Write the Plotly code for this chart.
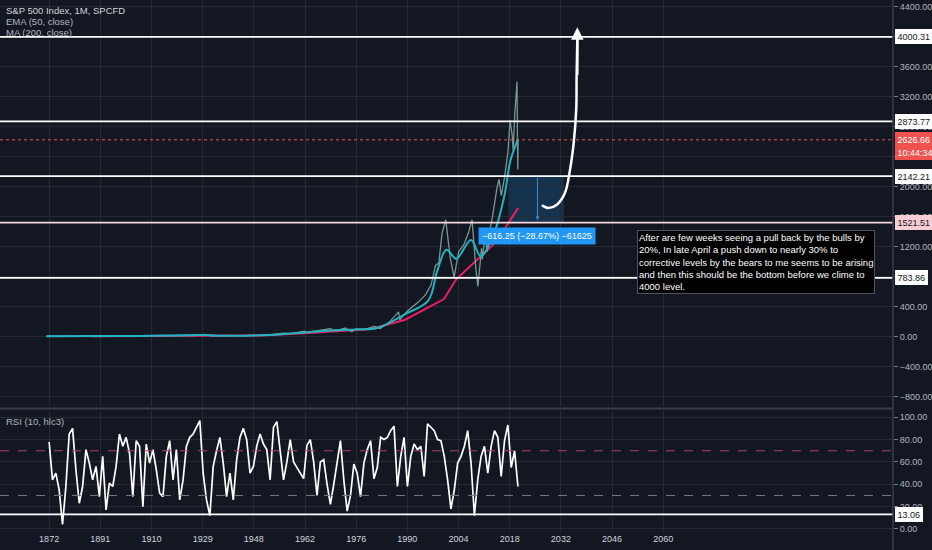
import numpy as np
import plotly.graph_objects as go

BG = "#131722"
GRID = "#262a35"
TEXT = "#b2b5be"
FONT = "Liberation Sans, Arial, sans-serif"

# x axis: evenly spaced year labels (bar index scale, not linear in time)
TICK_YEARS = [1872, 1891, 1910, 1929, 1948, 1962, 1976, 1990, 2004, 2018, 2032, 2046, 2060]

# S&P 500 monthly close, key points
PRICE_YEARS = [1871.0, 1880, 1890, 1900, 1906, 1914, 1920, 1926, 1929.7, 1932.5,
               1937, 1942, 1946, 1949.5, 1953, 1956, 1958, 1961.9, 1962.5, 1966,
               1968.9, 1970.4, 1973, 1974.8, 1976, 1978, 1980.9, 1982.6, 1985, 1987.6,
               1987.9, 1990, 1991, 1993, 1995, 1996.5, 1997.7, 1998.6, 1999.5, 2000.5,
               2001.7, 2002.8, 2004, 2005.5, 2006.8, 2007.7, 2008.8, 2009.3, 2010.3, 2010.5,
               2011.3, 2011.8, 2012.5, 2013.3, 2014.5, 2015.1, 2015.7, 2016.5, 2017.5, 2018.1,
               2018.7, 2018.95, 2019.4, 2020.0, 2020.2, 2020.3]
PRICE = [4.4, 5.0, 5.5, 6.2, 9.0, 7.5, 7.0, 13, 30, 6.9,
         15, 9, 17, 15, 25, 45, 40, 72, 55, 85,
         106, 72, 115, 65, 105, 90, 135, 108, 190, 330,
         225, 340, 380, 460, 560, 690, 950, 980, 1380, 1560,
         1060, 790, 1130, 1230, 1400, 1560, 870, 670, 1180, 1030,
         1350, 1130, 1400, 1600, 1980, 2100, 1880, 2100, 2450, 2890,
         2680, 2480, 2980, 3400, 2230, 2626.66]

EMA_YEARS = [1871, 1900, 1929, 1935, 1950, 1962, 1970, 1976, 1982, 1989.4,
             1995.7, 1998.2, 2000.7, 2003.4, 2007.4, 2010.1, 2013.8, 2016.5, 2018.2, 2020.3]
EMA = [4.4, 6, 20, 12, 16, 55, 85, 95, 118, 300,
       480, 880, 1160, 1040, 1290, 1070, 1390, 1870, 2350, 2640]

MA_YEARS = [1888, 1930, 1950, 1962, 1980, 1989.4, 1996.3, 2000, 2003.3, 2009.7,
            2014, 2016.5, 2018.5, 2020.3]
MA = [5, 12, 14, 44, 100, 225, 400, 500, 760, 1050,
      1250, 1430, 1590, 1716]

# RSI(10, hlc3), evenly spaced bars from 1872 to early 2020
RSI_FIRST, RSI_LAST = 1872, 2020.25
RSI = [78, 44, 50, 35, 4, 38, 85, 90, 53, 23,
       38, 71, 59, 44, 56, 29, 65, 17, 41, 38,
       56, 85, 74, 82, 68, 29, 79, 74, 20, 76,
       59, 71, 53, 32, 29, 65, 79, 44, 71, 26,
       44, 74, 82, 85, 91, 97, 50, 26, 12, 56,
       70, 82, 59, 29, 50, 26, 62, 82, 90, 80,
       50, 56, 74, 85, 76, 71, 44, 91, 96, 71,
       44, 60, 80, 60, 55, 50, 45, 75, 80, 60,
       30, 60, 62, 40, 22, 40, 58, 79, 44, 16,
       30, 58, 50, 29, 59, 71, 79, 45, 55, 82,
       80, 82, 88, 92, 38, 65, 82, 38, 65, 76,
       71, 74, 47, 94, 91, 88, 80, 79, 65, 44,
       18, 35, 59, 65, 74, 88, 59, 12, 44, 65,
       74, 50, 74, 88, 82, 47, 79, 93, 55, 70,
       38]

# drawn levels and labels
LEVELS = [4000.31, 2873.77, 2142.21, 783.86]
PINK_LEVEL = 1521.51
LAST_PRICE = 2626.66
COUNTDOWN = "10:44:34"
RSI_LEVEL = 13.06

# measure tool and hand-drawn arrow
MEASURE_YEARS = [2017.6, 2032.8]
MEASURE_MID = 2025.6
MEASURE_TEXT = "−616.25 (−28.67%) −61625"
ARROW_YEARS = [2026.8, 2028.6, 2030.9, 2033.1, 2034.5, 2035.5, 2036.2, 2036.3, 2036.5]
ARROW_PRICES = [1751, 1716, 1760, 1916, 2227, 2583, 3027, 3471, 3960]
ARROW_TIP = 4130

NOTE_YEAR = 2052.9
NOTE_PRICE = 1420
NOTE = ("After are few weeks seeing a pull back by the bulls by<br>"
        "20%, In late April a push down to nearly 30% to<br>"
        "corrective levels by the bears to me seems to be arising<br>"
        "and then this should be the bottom before we clime to<br>"
        "4000 level.")

EXT_YEARS = [TICK_YEARS[0] - 19] + TICK_YEARS + [TICK_YEARS[-1] + 14]
EXT_POS = list(range(-1, len(TICK_YEARS) + 1))


def to_pos(years):
    return np.interp(years, EXT_YEARS, EXT_POS)


fig = go.Figure()

fig.add_trace(go.Scatter(x=to_pos(MA_YEARS), y=MA, mode="lines",
                         line=dict(color="#e91e63", width=2), yaxis="y"))
fig.add_trace(go.Scatter(x=to_pos(PRICE_YEARS), y=PRICE, mode="lines",
                         line=dict(color="#7b9692", width=1.3), yaxis="y"))
fig.add_trace(go.Scatter(x=to_pos(EMA_YEARS), y=EMA, mode="lines", line_shape="spline",
                         line=dict(color="#22b3c3", width=2), yaxis="y"))
fig.add_trace(go.Scatter(x=to_pos(ARROW_YEARS), y=ARROW_PRICES, mode="lines", line_shape="spline",
                         line=dict(color="white", width=2.5), yaxis="y"))

rsi_x = np.linspace(to_pos(RSI_FIRST), to_pos(RSI_LAST), len(RSI))
fig.add_trace(go.Scatter(x=rsi_x, y=RSI, mode="lines",
                         line=dict(color="white", width=1.7), yaxis="y2"))

shapes = []
# measure box
shapes.append(dict(type="rect", xref="x", yref="y",
                   x0=to_pos(MEASURE_YEARS[0]), x1=to_pos(MEASURE_YEARS[1]),
                   y0=PINK_LEVEL, y1=LEVELS[2],
                   fillcolor="rgba(33,150,243,0.22)", line=dict(width=0), layer="below"))
for lv in LEVELS:
    shapes.append(dict(type="line", xref="paper", yref="y", x0=0, x1=1, y0=lv, y1=lv,
                       line=dict(color="white", width=1.8)))
shapes.append(dict(type="line", xref="paper", yref="y", x0=0, x1=1, y0=PINK_LEVEL, y1=PINK_LEVEL,
                   line=dict(color="#f3d6dc", width=1.8)))
shapes.append(dict(type="line", xref="paper", yref="y", x0=0, x1=1, y0=LAST_PRICE, y1=LAST_PRICE,
                   line=dict(color="#ef5350", width=1, dash="dot")))
shapes.append(dict(type="line", xref="paper", yref="y2", x0=0, x1=1, y0=70, y1=70,
                   line=dict(color="#a8416a", width=1, dash="dash")))
shapes.append(dict(type="line", xref="paper", yref="y2", x0=0, x1=1, y0=30, y1=30,
                   line=dict(color="#787b86", width=1, dash="dash")))
shapes.append(dict(type="line", xref="paper", yref="y2", x0=0, x1=1, y0=RSI_LEVEL, y1=RSI_LEVEL,
                   line=dict(color="white", width=1.8)))
# pane separator and price scale border
shapes.append(dict(type="line", xref="paper", yref="paper", x0=0, x1=1, y0=0.232, y1=0.232,
                   line=dict(color="#3a3e4a", width=2)))
shapes.append(dict(type="line", xref="paper", yref="paper", x0=1, x1=1, y0=-0.04, y1=1,
                   line=dict(color="#3a3e4a", width=1.5)))

annotations = []
# measure arrow and label
annotations.append(dict(xref="x", yref="y", x=to_pos(MEASURE_MID), y=PINK_LEVEL + 30,
                        ax=to_pos(MEASURE_MID), ay=LEVELS[2], axref="x", ayref="y",
                        showarrow=True, arrowhead=2, arrowsize=0.8, arrowwidth=1,
                        arrowcolor="rgba(66,165,245,0.8)", text=""))
annotations.append(dict(xref="x", yref="y", x=to_pos(MEASURE_MID), y=1347,
                        text=MEASURE_TEXT, showarrow=False, bgcolor="#2196f3",
                        font=dict(color="white", size=9, family=FONT), borderpad=3))
# tip of hand-drawn arrow
annotations.append(dict(xref="x", yref="y", x=to_pos(ARROW_YEARS[-1]), y=ARROW_TIP,
                        ax=to_pos(ARROW_YEARS[-1]), ay=ARROW_PRICES[-2], axref="x", ayref="y",
                        showarrow=True, arrowhead=2, arrowsize=1, arrowwidth=2.5,
                        arrowcolor="white", text=""))
# note box
annotations.append(dict(xref="x", yref="y", x=to_pos(NOTE_YEAR), y=NOTE_PRICE,
                        xanchor="left", yanchor="top", align="left", text=NOTE,
                        showarrow=False, bgcolor="black", bordercolor="#50535e", borderwidth=1,
                        borderpad=1, font=dict(color="white", size=9.5, family=FONT)))
# legend texts
for i, t in enumerate(["S&P 500 Index, 1M, SPCFD", "EMA (50, close)", "MA (200, close)"]):
    annotations.append(dict(xref="paper", yref="paper", x=0, y=1 - (10 + 11.5 * i) / 532,
                            xanchor="left", yanchor="middle", xshift=4, text=t, showarrow=False,
                            font=dict(color=TEXT if i else "#d1d4dc", size=9.5, family=FONT)))
annotations.append(dict(xref="paper", yref="paper", x=0, y=1 - 421 / 532, xanchor="left",
                        yanchor="middle", xshift=4, text="RSI (10, hlc3)", showarrow=False,
                        font=dict(color=TEXT, size=9.5, family=FONT)))


def price_label(y, text, bg, fg, yref="y", yshift=0):
    return dict(xref="paper", yref=yref, x=1, y=y, xanchor="left", yanchor="middle",
                xshift=2, yshift=yshift, text=text, showarrow=False, bgcolor=bg,
                bordercolor=bg, borderpad=1.5, font=dict(color=fg, size=9, family=FONT))


for lv in LEVELS:
    annotations.append(price_label(lv, f"{lv:.2f}", "white", BG))
annotations.append(price_label(PINK_LEVEL, f"{PINK_LEVEL:.2f}", "#f8cdd4", BG))
annotations.append(price_label(LAST_PRICE, f"{LAST_PRICE:.2f}", "#ef5350", "white"))
annotations.append(price_label(LAST_PRICE, COUNTDOWN, "#ef5350", "white", yshift=-13))
annotations.append(price_label(RSI_LEVEL, f"{RSI_LEVEL:.2f}", "white", BG, yref="y2"))

fig.update_layout(
    width=932,
    height=550,
    margin=dict(l=0, r=39, t=0, b=18),
    paper_bgcolor=BG,
    plot_bgcolor=BG,
    showlegend=False,
    font=dict(family=FONT, size=9, color=TEXT),
    xaxis=dict(
        range=[-0.96, 16.49],
        tickvals=list(range(len(TICK_YEARS))),
        ticktext=[str(y) for y in TICK_YEARS],
        tickfont=dict(color="#d1d4dc", size=9),
        showgrid=True, gridcolor=GRID, gridwidth=1,
        zeroline=False, anchor="y2", showline=False,
    ),
    yaxis=dict(
        domain=[0.236, 1], range=[-933, 4493], side="right", anchor="x",
        tickvals=list(range(-800, 4401, 400)), tickformat=".2f",
        showgrid=True, gridcolor=GRID, zeroline=False,
        ticks="outside", ticklen=4, tickcolor="#787b86",
    ),
    yaxis2=dict(
        domain=[0, 0.229], range=[-2.7, 106.3], side="right", anchor="x",
        tickvals=[0, 20, 40, 60, 80, 100], tickformat=".2f",
        showgrid=True, gridcolor=GRID, zeroline=False,
        ticks="outside", ticklen=4, tickcolor="#787b86",
    ),
    shapes=shapes,
    annotations=annotations,
)

# page body has a default 8px margin; remove it so the chart fills the window
fig.write_html("out.html", config={"displayModeBar": False},
               post_script="document.body.style.margin='0';"
               "document.body.style.background='#131722';")
